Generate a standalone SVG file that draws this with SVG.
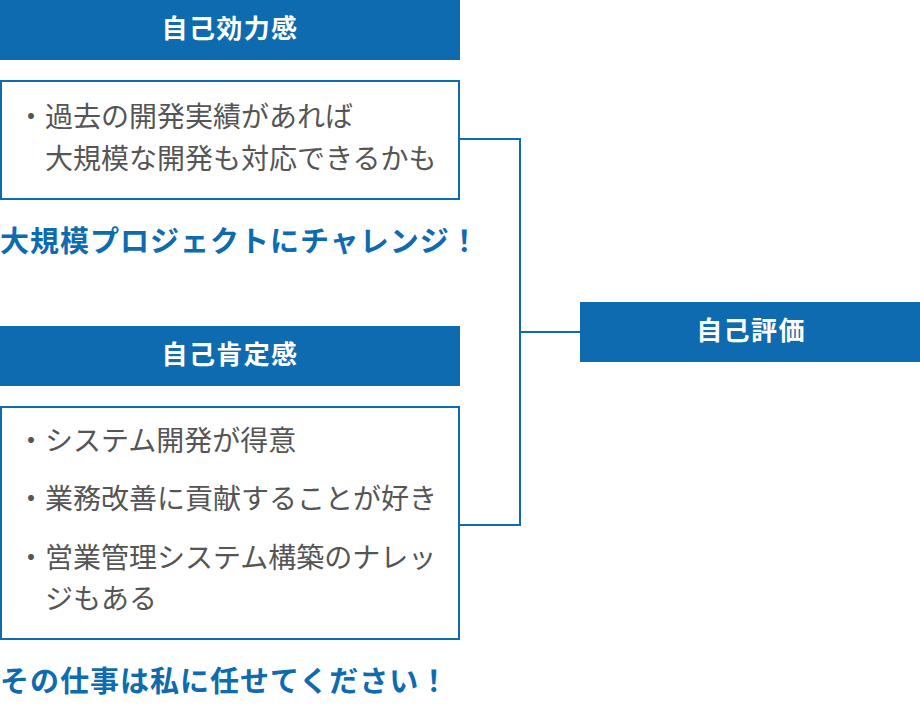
<svg xmlns="http://www.w3.org/2000/svg" width="920" height="706" viewBox="0 0 920 706">
<style>
.hdr{fill:#0e6bb0}
.box{fill:#fff;stroke:#0e6bb0;stroke-width:2}
.ht{font-family:"Noto Sans CJK JP","Noto Sans",sans-serif;font-weight:bold;font-size:26px;fill:#fff;text-anchor:middle;letter-spacing:1.4px}
.bt{font-family:"Noto Sans CJK JP","Noto Sans",sans-serif;font-size:28px;fill:#555}
.em{font-family:"Noto Sans CJK JP","Noto Sans",sans-serif;font-weight:bold;font-size:29px;fill:#0e6bb0;letter-spacing:1px}
.conn{fill:none;stroke:#0e6bb0;stroke-width:2}
</style>
<rect width="920" height="706" fill="#fff"/>
<g id="connectors">
<polyline class="conn" points="459,139 520,139 520,525 459,525"/>
<line class="conn" x1="520" y1="332" x2="580" y2="332"/>
</g>
<g id="node-kouryokukan">
<rect class="hdr" x="0" y="0" width="460" height="60"/>
<text class="ht" x="230" y="38">自己効力感</text>
</g>
<g id="node-box1">
<rect class="box" x="1" y="81" width="458" height="118"/>
<text class="bt" x="17" y="127">・過去の開発実績があれば</text>
<text class="bt" x="45" y="169">大規模な開発も対応できるかも</text>
</g>
<g id="node-em1">
<text class="em" x="0" y="252">大規模プロジェクトにチャレンジ！</text>
</g>
<g id="node-kouteikan">
<rect class="hdr" x="0" y="326" width="460" height="60"/>
<text class="ht" x="230" y="364">自己肯定感</text>
</g>
<g id="node-box2">
<rect class="box" x="1" y="407" width="458" height="232"/>
<text class="bt" x="17" y="451">・システム開発が得意</text>
<text class="bt" x="17" y="509">・業務改善に貢献することが好き</text>
<text class="bt" x="17" y="568">・営業管理システム構築のナレッ</text>
<text class="bt" x="45" y="609">ジもある</text>
</g>
<g id="node-em2">
<text class="em" x="0" y="692">その仕事は私に任せてください！</text>
</g>
<g id="node-hyouka">
<rect class="hdr" x="580" y="302" width="340" height="60"/>
<text class="ht" x="751" y="340">自己評価</text>
</g>
</svg>
